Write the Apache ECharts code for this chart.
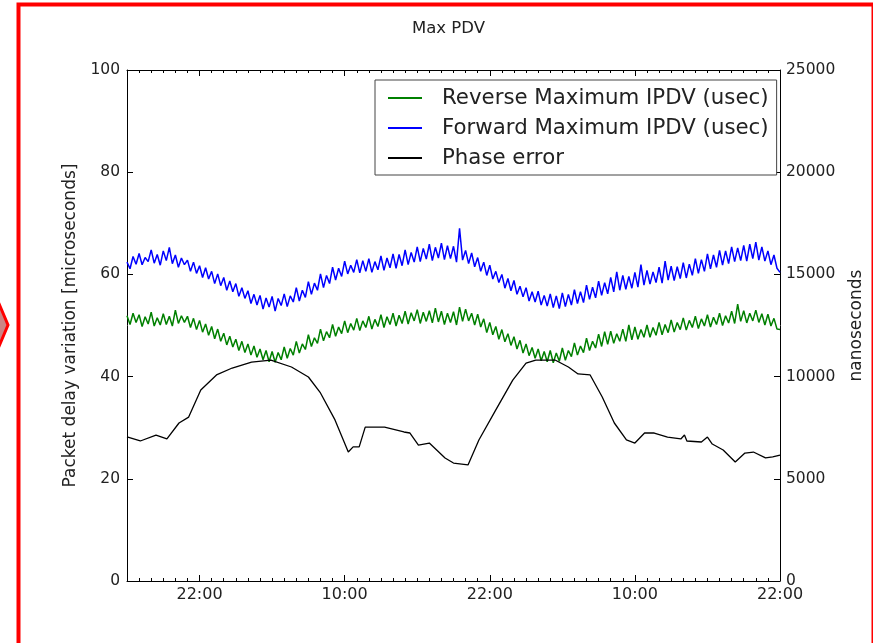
<!DOCTYPE html>
<html>
<head>
<meta charset="utf-8">
<title>Max PDV</title>
<script src="https://cdn.jsdelivr.net/npm/echarts@6/dist/echarts.min.js"></script>
<style>
  html, body { margin: 0; padding: 0; background: #fff; }
  #chart { width: 873px; height: 643px; }
</style>
</head>
<body>
<div id="chart"></div>
<script>
// time axis: hours relative to the first 22:00 tick
const xTickHours = [0, 12, 24, 36, 48]
const xTickLabels = ['22:00', '10:00', '22:00', '10:00', '22:00']

// noisy IPDV series, sampled every 15 min starting at -6 h (usec)
const sampleStart = -6
const sampleStep = 0.25
const reverseIpdv = [
  51.9, 50.2, 52.4, 50.6, 52.1, 49.8, 51.7, 50.3, 52.6, 49.9, 51.5, 50.1,
  52.3, 50.2, 51.8, 49.9, 53.0, 50.4, 51.9, 50.6, 51.8, 49.6, 51.4, 49.2,
  51.0, 48.7, 50.3, 48.1, 49.8, 47.4, 49.3, 46.9, 48.5, 46.2, 47.9, 45.8,
  47.3, 45.1, 46.9, 44.7, 46.4, 44.2, 46.0, 43.8, 45.4, 43.3, 45.1, 42.9,
  44.9, 42.8, 44.7, 43.3, 45.8, 43.6, 45.5, 44.2, 46.9, 44.6, 46.4, 45.3,
  48.2, 45.9, 47.6, 46.5, 49.3, 47.0, 48.8, 47.6, 50.2, 47.9, 49.7, 48.4,
  50.9, 48.6, 50.4, 49.1, 51.4, 49.0, 50.9, 49.6, 51.8, 49.3, 51.2, 49.8,
  52.1, 49.6, 51.7, 50.2, 52.4, 49.9, 52.0, 50.4, 52.8, 50.3, 52.5, 50.9,
  53.1, 50.4, 52.6, 50.8, 52.9, 50.5, 53.4, 50.7, 52.8, 50.2, 52.4, 50.6,
  52.7, 50.1, 53.6, 50.8, 53.2, 50.9, 52.4, 50.1, 52.2, 49.7, 51.3, 48.6,
  50.6, 48.2, 49.8, 47.3, 49.2, 46.8, 48.4, 46.1, 47.8, 45.4, 47.1, 44.6,
  46.4, 44.1, 45.7, 43.6, 45.4, 43.1, 44.9, 42.9, 45.1, 42.7, 44.6, 43.0,
  45.6, 43.2, 45.1, 43.9, 46.6, 44.2, 46.0, 44.7, 47.5, 45.1, 46.9, 45.6,
  48.3, 45.9, 48.8, 46.3, 48.9, 46.5, 48.4, 46.9, 49.3, 46.9, 50.1, 47.2,
  49.7, 47.3, 49.2, 47.7, 50.1, 47.7, 49.6, 48.1, 50.6, 48.2, 50.2, 48.6,
  51.1, 48.7, 50.6, 49.2, 51.5, 49.1, 51.0, 49.6, 51.8, 49.4, 51.3, 49.9,
  52.1, 49.7, 51.6, 50.2, 52.4, 50.0, 51.9, 50.5, 52.8, 50.4, 54.2, 50.8,
  52.9, 50.5, 52.4, 50.9, 53.0, 50.6, 52.3, 50.1, 52.2, 49.9, 51.4, 49.3,
  49.2
]
const forwardIpdv = [
  62.4, 61.1, 63.5, 62.0, 64.1, 61.9, 63.3, 62.5, 64.8, 62.2, 63.9, 61.8,
  64.6, 62.7, 65.3, 62.1, 63.8, 61.4, 63.2, 61.9, 62.8, 60.6, 62.4, 60.2,
  61.7, 59.4, 61.3, 59.1, 60.6, 58.2, 60.1, 57.8, 59.4, 56.9, 58.7, 56.6,
  58.2, 55.7, 57.4, 55.3, 56.8, 54.3, 56.1, 54.0, 55.9, 53.2, 55.4, 53.6,
  55.7, 52.8, 55.3, 53.9, 56.2, 53.7, 55.8, 54.6, 57.4, 54.8, 56.9, 55.5,
  58.6, 56.1, 58.3, 56.9, 60.1, 57.4, 59.8, 58.2, 61.4, 58.9, 61.2, 59.6,
  62.6, 60.1, 61.8, 60.4, 62.9, 60.3, 62.7, 60.6, 63.1, 60.4, 62.5, 60.9,
  63.6, 60.8, 63.2, 61.3, 64.0, 61.2, 63.9, 61.7, 64.8, 61.9, 64.3, 62.4,
  65.4, 62.5, 65.1, 63.0, 65.9, 62.7, 65.3, 63.2, 66.1, 62.9, 65.6, 63.1,
  65.5, 62.4, 69.0, 62.8, 64.7, 62.1, 64.2, 61.5, 63.3, 60.6, 62.4, 59.8,
  61.8, 59.1, 60.6, 58.4, 60.0, 57.3, 59.2, 56.8, 58.8, 56.1, 57.7, 55.6,
  57.4, 54.8, 56.6, 54.6, 56.7, 54.0, 55.9, 53.8, 56.2, 53.5, 55.8, 53.3,
  56.4, 53.7, 56.1, 54.0, 57.0, 54.3, 56.6, 54.5, 57.9, 55.1, 57.5, 55.4,
  58.7, 55.9, 58.4, 56.2, 59.4, 56.6, 60.5, 56.9, 59.8, 57.1, 59.6, 57.3,
  60.4, 57.5, 61.9, 57.9, 60.8, 58.1, 60.5, 58.4, 61.4, 58.3, 62.6, 58.9,
  61.6, 58.8, 61.5, 59.2, 62.3, 59.3, 62.0, 59.8, 63.1, 60.2, 62.9, 60.6,
  64.0, 61.1, 63.8, 61.4, 64.7, 61.8, 64.6, 62.1, 65.4, 62.5, 65.2, 62.7,
  65.7, 62.6, 65.9, 63.1, 66.3, 62.8, 65.4, 62.6, 64.6, 61.9, 63.8, 61.2,
  60.4
]

// phase error (nanoseconds, right axis)
const phaseHours = [
  -6, -4.9, -3.6, -2.7, -1.7, -0.9, 0.1, 1.4, 2.7, 4.3, 5.9,
  7.6, 9.0, 10.0, 11.2, 12.3, 12.7, 13.2, 13.7, 15.3, 16.9,
  17.4, 18.1, 19.0, 20.3, 21.0, 22.2, 23.1, 24.5, 25.9, 27.0,
  27.8, 29.4, 30.5, 31.3, 32.3, 33.3, 34.3, 35.3, 36.0, 36.8,
  37.6, 38.7, 39.8, 40.1, 40.3, 41.5, 42.0, 42.4, 43.3, 44.3,
  45.1, 45.8, 46.8, 47.4, 48
]
const phaseNs = [
  7050, 6850, 7140, 6950, 7730, 8020, 9340, 10080, 10420, 10710, 10810,
  10470, 9980, 9200, 7880, 6310, 6560, 6560, 7530, 7530, 7290,
  7240, 6650, 6750, 6020, 5770, 5680, 6900, 8370, 9830, 10660,
  10810, 10810, 10470, 10130, 10080, 9000, 7730, 6900, 6750, 7240,
  7240, 7040, 6950, 7140, 6850, 6800, 7040, 6700, 6410, 5820,
  6260, 6310, 6020, 6070, 6160
]

const seriesNames = ['Reverse Maximum IPDV (usec)', 'Forward Maximum IPDV (usec)', 'Phase error']

const toPairs = vals => vals.map((v, i) => [sampleStart + i * sampleStep, v])
const fontFamily = 'DejaVu Sans'
const ink = '#222'

const chart = echarts.init(document.getElementById('chart'))

const xBase = {
  type: 'value', min: -6, max: 48, gridIndex: 0,
  splitLine: { show: false },
  axisLine: { show: true, onZero: false, lineStyle: { color: '#000', width: 1 } }
}

chart.setOption({
  animation: false,
  backgroundColor: '#fff',
  title: {
    text: 'Max PDV', left: 407, top: 15,
    textStyle: { fontFamily, fontSize: 16.5, fontWeight: 'normal', color: ink }
  },
  grid: { left: 127, right: 87, top: 70, bottom: 62 },
  legend: {
    orient: 'vertical', left: 375, top: 80,
    padding: [6, 8, 5, 13], itemGap: 6,
    itemWidth: 34, itemHeight: 2, icon: 'rect',
    borderColor: '#444', borderWidth: 1, backgroundColor: '#fff',
    data: seriesNames,
    textStyle: { fontFamily, fontSize: 21.3, color: ink, lineHeight: 24, padding: [0, 0, 0, 15] }
  },
  xAxis: [
    Object.assign({}, xBase, {
      position: 'bottom', interval: 1,
      axisTick: { show: true, inside: true, length: 3, lineStyle: { color: '#000' } },
      axisLabel: {
        customValues: xTickHours, margin: 6,
        fontFamily, fontSize: 16, color: ink,
        formatter: v => xTickLabels[xTickHours.indexOf(v)]
      }
    }),
    Object.assign({}, xBase, {
      position: 'bottom', axisLine: { show: false, onZero: false },
      axisTick: { show: true, inside: true, length: 6, customValues: xTickHours, lineStyle: { color: '#000' } },
      axisLabel: { show: false }
    }),
    Object.assign({}, xBase, {
      position: 'top', interval: 1,
      axisTick: { show: true, inside: true, length: 3, lineStyle: { color: '#000' } },
      axisLabel: { show: false }
    }),
    Object.assign({}, xBase, {
      position: 'top', axisLine: { show: false, onZero: false },
      axisTick: { show: true, inside: true, length: 6, customValues: xTickHours, lineStyle: { color: '#000' } },
      axisLabel: { show: false }
    })
  ],
  yAxis: [
    {
      type: 'value', position: 'left', min: 0, max: 100, interval: 20,
      name: 'Packet delay variation [microseconds]',
      nameLocation: 'middle', nameRotate: 90, nameGap: 44,
      nameTextStyle: { fontFamily, fontSize: 17, color: ink },
      splitLine: { show: false },
      axisLine: { show: true, onZero: false, lineStyle: { color: '#000', width: 1 } },
      axisTick: { show: true, inside: true, length: 6, lineStyle: { color: '#000' } },
      axisLabel: { fontFamily, fontSize: 15.5, color: ink, margin: 7 }
    },
    {
      type: 'value', position: 'right', min: 0, max: 25000, interval: 5000,
      name: 'nanoseconds',
      nameLocation: 'middle', nameRotate: 90, nameGap: 68,
      nameTextStyle: { fontFamily, fontSize: 17, color: ink },
      splitLine: { show: false },
      axisLine: { show: true, onZero: false, lineStyle: { color: '#000', width: 1 } },
      axisTick: { show: true, inside: true, length: 6, lineStyle: { color: '#000' } },
      axisLabel: { fontFamily, fontSize: 15.5, color: ink, margin: 6, formatter: v => String(v) }
    }
  ],
  graphic: [
    {
      type: 'rect', silent: true, z: 100,
      shape: { x: 18.5, y: 4.5, width: 855, height: 645 },
      style: { fill: null, stroke: '#ff0000', lineWidth: 4 }
    },
    {
      type: 'polygon', silent: true, z: 100,
      shape: { points: [[-8, 287], [8, 325], [-8, 363]] },
      style: { fill: '#cc8585', stroke: '#ff0000', lineWidth: 3 }
    }
  ],
  series: [
    {
      name: seriesNames[0], type: 'line', xAxisIndex: 0, yAxisIndex: 0,
      data: toPairs(reverseIpdv), symbol: 'none',
      lineStyle: { color: '#008000', width: 1.5 }, itemStyle: { color: '#008000' }
    },
    {
      name: seriesNames[1], type: 'line', xAxisIndex: 0, yAxisIndex: 0,
      data: toPairs(forwardIpdv), symbol: 'none',
      lineStyle: { color: '#0000ff', width: 1.5 }, itemStyle: { color: '#0000ff' }
    },
    {
      name: seriesNames[2], type: 'line', xAxisIndex: 0, yAxisIndex: 1,
      data: phaseHours.map((h, i) => [h, phaseNs[i]]), symbol: 'none',
      lineStyle: { color: '#000000', width: 1.3 }, itemStyle: { color: '#000000' }
    }
  ]
})

window.addEventListener('resize', () => {
  chart.resize()
})
</script>
</body>
</html>
